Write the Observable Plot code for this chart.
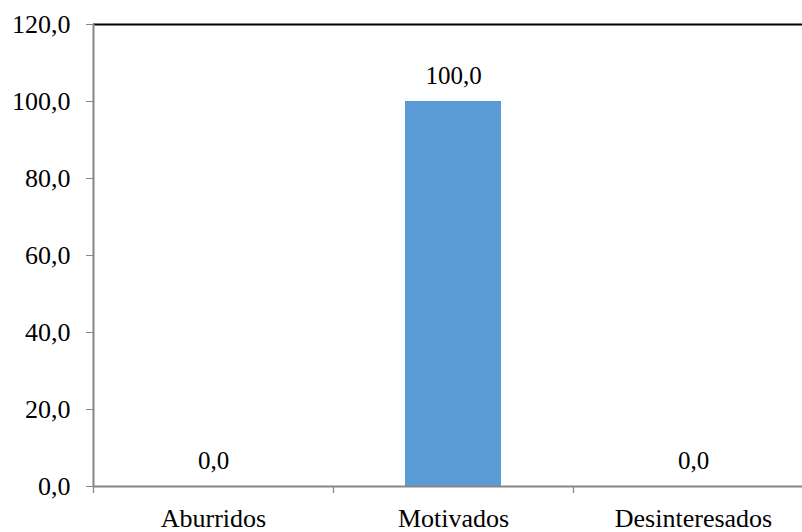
<!DOCTYPE html>
<html>
<head>
<meta charset="utf-8">
<script src="https://cdn.jsdelivr.net/npm/d3@7"></script>
<script src="https://cdn.jsdelivr.net/npm/@observablehq/plot@0.6"></script>
<style>
  html, body { margin: 0; padding: 0; background: #fff; overflow: hidden; }
  svg { overflow: hidden; }
</style>
</head>
<body>
<div id="chart"></div>
<script>
const categories = ["Aburridos", "Motivados", "Desinteresados"];
const values = [0.0, 100.0, 0.0];
const yTicks = [0, 20, 40, 60, 80, 100, 120];

const data = categories.map((c, i) => ({category: c, value: values[i]}));
const fmt = d => d.toFixed(1).replace(".", ",");
const font = "'Liberation Serif', 'Times New Roman', serif";

const chart = Plot.plot({
  width: 802,
  height: 532,
  marginTop: 24,
  marginBottom: 46,
  marginLeft: 93,
  marginRight: 0,
  style: {fontFamily: font, fontSize: "26px", color: "#000", background: "#fff"},
  x: {type: "band", domain: categories, range: [93, 813], paddingInner: 0.6, paddingOuter: 0.3, align: 0.5, label: null},
  y: {domain: [0, 120], ticks: yTicks, label: null},
  marks: [
    Plot.barY(data, {x: "category", y: "value", fill: "#5B9BD5"}),
    Plot.ruleY([120], {stroke: "#000", strokeWidth: 2}),
    Plot.ruleY([0], {stroke: "#868686", strokeWidth: 2}),
    Plot.ruleX([categories[0]], {x: d => d, dx: -120, stroke: "#868686", strokeWidth: 2}),
    Plot.ruleX(categories, {x: d => d, dx: -120, y1: 0, y2: 0, insetBottom: -7, stroke: "#868686", strokeWidth: 1.3}),
    Plot.axisY({ticks: yTicks, tickFormat: fmt, tickSize: 7, tickPadding: 16, stroke: "#868686", fontSize: 26, label: null}),
    Plot.axisX({tickSize: 0, tickPadding: 22, fontSize: 26, label: null}),
    Plot.text(data, {x: "category", y: "value", text: d => fmt(d.value), dy: -26, lineAnchor: "middle", fontSize: 25, fill: "#000"})
  ]
});
document.getElementById("chart").appendChild(chart);
</script>
</body>
</html>
